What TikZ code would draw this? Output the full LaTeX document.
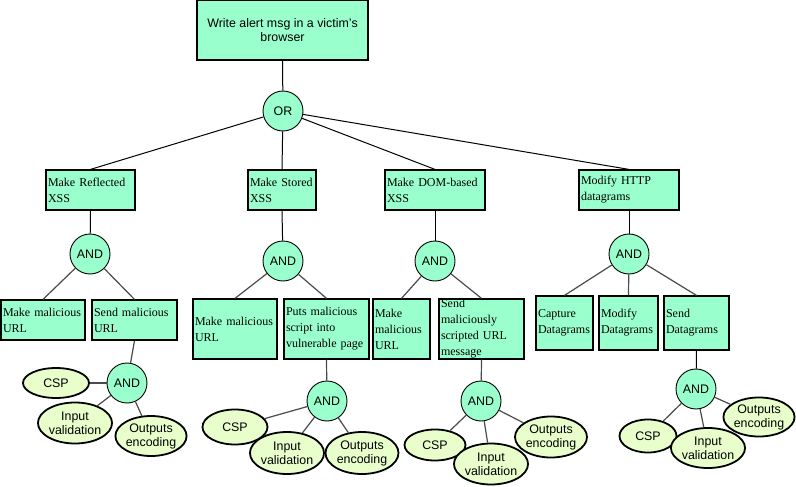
\documentclass[tikz,border=0pt]{standalone}
\usepackage{fontspec}
\setmainfont{Liberation Serif}
\setsansfont{Liberation Sans}
\usetikzlibrary{shapes.geometric}
\definecolor{mint}{HTML}{99FFCC}
\definecolor{pale}{HTML}{E8FFCC}
\definecolor{linkgray}{HTML}{4A4A4A}
\tikzset{
  box/.style={draw=black, line width=1.2pt, fill=mint, rectangle, inner xsep=2pt, inner ysep=0pt,
    align=left, font=\rmfamily\fontsize{12}{16}\selectfont},
  rootbox/.style={draw=black, line width=1.2pt, fill=mint, rectangle, inner sep=0pt,
    align=center, font=\sffamily\fontsize{12.4}{14}\selectfont, minimum width=171pt, minimum height=60pt},
  gate/.style={draw=black, line width=0.9pt, fill=mint, circle, inner sep=0pt, minimum size=40pt,
    font=\sffamily\fontsize{12.4}{14}\selectfont},
  leaf/.style={draw=black, line width=1.8pt, fill=pale, ellipse, inner sep=0pt, align=center,
    font=\sffamily\fontsize{12.4}{14}\selectfont},
  link/.style={draw=black, line width=1pt},
  sublink/.style={draw=linkgray, line width=1.2pt},
}
\begin{document}
\begin{tikzpicture}[x=1pt,y=-1pt]
\useasboundingbox (0,0) rectangle (796,487);
% root
\node[rootbox] (root) at (282.5,30) {Write alert msg in a victim's\\browser};
\node[gate] (or) at (283,111) {OR};
% level 1
\node[box, minimum width=89pt, text width=85pt, minimum height=40pt] (refl) at (90.5,190) {Make Reflected\\XSS};
\node[box, minimum width=68pt, text width=64pt, minimum height=40pt] (stor) at (282,190) {Make Stored\\XSS};
\node[box, minimum width=100pt, text width=96pt, minimum height=40pt] (dom) at (435,190) {Make DOM-based\\XSS};
\node[box, minimum width=100pt, text width=96pt, minimum height=40pt] (http) at (629,190) {Modify HTTP\\datagrams};
% and gates level 1
\node[gate] (a1) at (90,254) {AND};
\node[gate] (a2) at (283,261) {AND};
\node[gate] (a3) at (435,261) {AND};
\node[gate] (a4) at (629,254) {AND};
% level 2 boxes
\node[box, minimum width=84pt, text width=80pt, minimum height=40pt] (r1) at (43,320) {Make malicious\\URL};
\node[box, minimum width=85pt, text width=81pt, minimum height=40pt] (r2) at (134.5,320) {Send malicious\\URL};
\node[box, minimum width=84pt, text width=80pt, minimum height=60pt] (s1) at (235,329) {Make malicious\\URL};
\node[box, minimum width=85pt, text width=81pt, minimum height=60pt] (s2) at (326.5,329) {Puts malicious\\script into\\vulnerable page};
\node[box, minimum width=57pt, text width=53pt, minimum height=60pt] (d1) at (401.5,329) {Make\\malicious\\URL};
\node[box, minimum width=85pt, text width=81pt, minimum height=60pt] (d2) at (481.5,329) {Send\\maliciously\\scripted URL\\message};
\node[box, minimum width=57pt, text width=53pt, minimum height=54pt] (h1) at (564.5,323) {Capture\\Datagrams};
\node[box, minimum width=59pt, text width=55pt, minimum height=54pt] (h2) at (628.5,323) {Modify\\Datagrams};
\node[box, minimum width=65pt, text width=61pt, minimum height=54pt] (h3) at (696.5,323) {Send\\Datagrams};
% and gates level 2
\node[gate] (b1) at (127,383) {AND};
\node[gate] (b2) at (327,401) {AND};
\node[gate] (b3) at (481,401) {AND};
\node[gate] (b4) at (696,389) {AND};
% leaves
\node[leaf, minimum width=66pt, minimum height=30pt] (e11) at (56,383) {CSP};
\node[leaf, minimum width=70pt, minimum height=41pt] (e12) at (75,423) {Input\\validation};
\node[leaf, minimum width=71pt, minimum height=40pt] (e13) at (151,436) {Outputs\\encoding};
\node[leaf, minimum width=65pt, minimum height=35pt] (e21) at (235,427) {CSP};
\node[leaf, minimum width=68pt, minimum height=42pt] (e22) at (287,453) {Input\\validation};
\node[leaf, minimum width=73pt, minimum height=42pt] (e23) at (362,453) {Outputs\\encoding};
\node[leaf, minimum width=61pt, minimum height=31pt] (e31) at (435,445) {CSP};
\node[leaf, minimum width=68pt, minimum height=41pt] (e32) at (491,464) {Input\\validation};
\node[leaf, minimum width=72pt, minimum height=41pt] (e33) at (551,437) {Outputs\\encoding};
\node[leaf, minimum width=57pt, minimum height=33pt] (e41) at (648,436) {CSP};
\node[leaf, minimum width=65pt, minimum height=40pt] (e42) at (708,448) {Input\\validation};
\node[leaf, minimum width=71pt, minimum height=39pt] (e43) at (759,417) {Outputs\\encoding};
% connectors
\draw[link] (root.south) -- (or);
\draw[link] (or) -- (refl.north);
\draw[link] (or) -- (stor.north);
\draw[link] (or) -- (dom.north);
\draw[link] (or) -- (http.north);
\draw[link] (refl.south) -- (a1);
\draw[link] (stor.south) -- (a2);
\draw[link] (dom.south) -- (a3);
\draw[link] (http.south) -- (a4);
\draw[sublink] (a1) -- (r1.north);
\draw[sublink] (a1) -- (r2.north);
\draw[sublink] (a2) -- (s1.north);
\draw[sublink] (a2) -- (s2.north);
\draw[sublink] (a3) -- (d1.north);
\draw[sublink] (a3) -- (d2.north);
\draw[sublink] (a4) -- (h1.north);
\draw[sublink] (a4) -- (h2.north);
\draw[sublink] (a4) -- (h3.north);
\draw[sublink] (r2.south) -- (b1);
\draw[sublink] (s2.south) -- (b2);
\draw[sublink] (d2.south) -- (b3);
\draw[link] (h3.south) -- (b4);
\foreach \g/\n in {b1/e1,b2/e2,b3/e3,b4/e4}{
  \draw[sublink] (\g) -- (\n1);
  \draw[sublink] (\g) -- (\n2);
  \draw[sublink] (\g) -- (\n3);
}
\end{tikzpicture}
\end{document}
